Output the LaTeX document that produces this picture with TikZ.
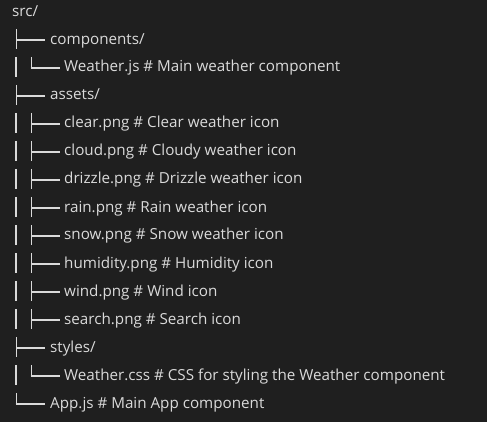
\documentclass[tikz,border=0pt]{standalone}
\usepackage{fontspec}
\setmainfont{Open Sans}
\definecolor{bgdark}{HTML}{1F1F1F}
\definecolor{fg}{HTML}{DADADA}
\begin{document}
\begin{tikzpicture}[x=1pt,y=1pt,
  entry/.style={anchor=base west,inner sep=0pt,text=fg,font=\fontsize{15.2}{18}\selectfont},
  glyph/.style={draw=fg,line width=1.6pt,line cap=butt}]
\fill[bgdark] (0,0) rectangle (487,-422);
\useasboundingbox (0,0) rectangle (487,-422);
% tree branch: \tee{x}{row}{length}, \elbow{x}{row}{length}, \pipe{x}{row}
\newcommand\tee[3]{\draw[glyph] (#1,-#2+11) -- (#1,-#2-9); \draw[glyph] (#1,-#2) -- (#1+#3,-#2);}
\newcommand\elbow[3]{\draw[glyph] (#1,-#2+11) -- (#1,-#2); \draw[glyph] (#1-0.8,-#2) -- (#1+#3,-#2);}
\newcommand\pipe[2]{\draw[glyph] (#1,-#2+11) -- (#1,-#2-9);}
% entries
\node[entry] (src)  at (12,-16.5) {src/};
\node[entry] (comp) at (50,-44.5) {components/};
\node[entry] (wjs)  at (64,-72) {Weather.js \# Main weather component};
\node[entry] (ast)  at (50,-100) {assets/};
\node[entry] (clr)  at (64,-128) {clear.png \# Clear weather icon};
\node[entry] (cld)  at (64,-156) {cloud.png \# Cloudy weather icon};
\node[entry] (drz)  at (64,-184) {drizzle.png \# Drizzle weather icon};
\node[entry] (rain) at (64,-212) {rain.png \# Rain weather icon};
\node[entry] (snow) at (64,-240) {snow.png \# Snow weather icon};
\node[entry] (hum)  at (64,-268) {humidity.png \# Humidity icon};
\node[entry] (wind) at (64,-296) {wind.png \# Wind icon};
\node[entry] (srch) at (64,-324) {search.png \# Search icon};
\node[entry] (sty)  at (50,-352) {styles/};
\node[entry] (wcss) at (64,-380) {Weather.css \# CSS for styling the Weather component};
\node[entry] (app)  at (50,-408) {App.js \# Main App component};
% branches
\tee{16.5}{40}{28.5}
\pipe{16}{68} \elbow{31.5}{68}{28.5}
\tee{16.5}{96}{28.5}
\foreach \r in {124,152,180,208,236,264,292,320} {\pipe{16}{\r} \tee{31.5}{\r}{28}}
\tee{16.5}{348}{28.5}
\pipe{16}{376} \elbow{31.5}{376}{28.5}
\elbow{16.5}{404}{28.5}
\end{tikzpicture}
\end{document}
